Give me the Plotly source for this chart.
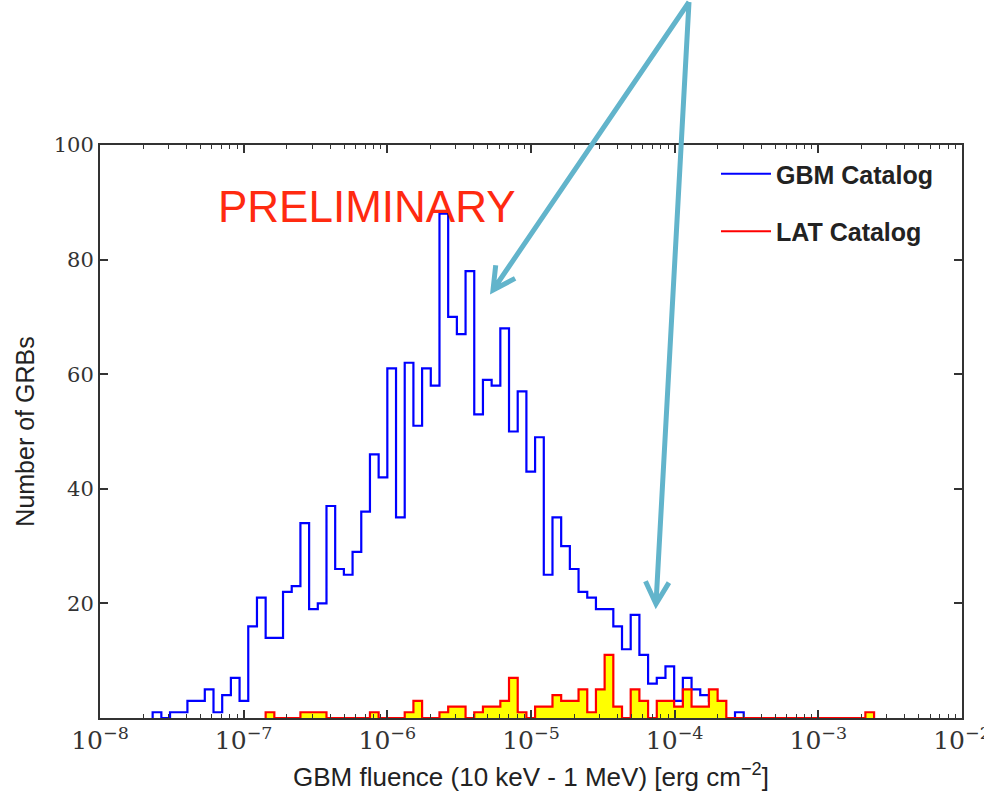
import math
import plotly.graph_objects as go

# Histogram binning: equal-width bins in log10(fluence)
LOG_EDGE0 = -6.0        # log10 of the edge at 1e-6
LOG_BIN = 0.0605        # bin width in decades

# GBM catalog counts, bins k = -27 .. 40 (k counted from the 1e-6 edge)
gbm_first_bin = -27
gbm_counts = [
    1, 0, 1, 1, 3, 3, 5, 1, 4, 7, 3, 16, 21, 14, 14, 22, 23,
    34, 19, 20, 37, 26, 25, 29, 36, 46, 42,
    61, 35, 62, 51, 61, 58, 88, 70, 67, 78, 53, 59, 58, 68, 50, 57, 43, 49,
    25, 35, 30, 26, 22, 21, 19, 19, 16, 12, 18, 11, 6, 7, 9, 3, 7, 5, 4, 3,
    0, 0, 1,
]

# LAT catalog counts, bins k = -14 .. 55
lat_first_bin = -14
lat_counts = [
    1, 0, 0, 0, 1, 1, 1, 0, 0, 0, 0, 0, 1, 0, 0, 0, 1, 3, 0, 0,
    1, 2, 2, 0, 1, 2, 2, 3, 7, 1, 0, 2, 2, 4, 3, 3, 5, 1, 5, 11,
    2, 0, 5, 3, 0, 3, 3, 2, 5, 2, 2, 5, 3,
    0, 0, 0, 0, 0, 0, 0, 0, 0, 0, 0, 0, 0, 0, 0, 0, 1,
]

x_decades = [-8, -2]
y_ticks = [20, 40, 60, 80, 100]


def step_outline(first_bin, counts):
    """Bin edges and heights for a closed step outline (matplotlib 'step')."""
    edges = [10 ** (LOG_EDGE0 + LOG_BIN * (first_bin + i)) for i in range(len(counts) + 1)]
    xs = [edges[0]] + edges
    ys = [0] + list(counts) + [0]
    return xs, ys


gx, gy = step_outline(gbm_first_bin, gbm_counts)
lx, ly = step_outline(lat_first_bin, lat_counts)

fig = go.Figure()
fig.add_trace(go.Scatter(
    x=gx, y=gy, mode="lines", line=dict(color="#0000ff", width=2.2, shape="hv"),
    name="GBM Catalog", legendgroup="gbm",
))
fig.add_trace(go.Scatter(
    x=lx, y=ly, mode="lines", line=dict(color="rgba(0,0,0,0)", width=0, shape="hv"),
    fill="tozeroy", fillcolor="#ffff00", showlegend=False, hoverinfo="skip",
))
fig.add_trace(go.Scatter(
    x=lx, y=ly, mode="lines", line=dict(color="#ff0000", width=2.2, shape="hv"),
    name="LAT Catalog", legendgroup="lat",
))

# plot-area geometry in pixels
W, H = 984, 793
L, R, T, B = 100, 22, 145, 75
PW, PH = W - L - R, H - T - B


def to_paper(px, py):
    return (px - L) / PW, (H - B - py) / PH


def arrow_path(tail, tip, head_len=25, half_angle=28):
    dx, dy = tail[0] - tip[0], tail[1] - tip[1]
    base = math.atan2(dy, dx)
    pts = []
    for s in (-1, 1):
        a = base + s * math.radians(half_angle)
        pts.append((tip[0] + head_len * math.cos(a), tip[1] + head_len * math.sin(a)))
    p = lambda q: "%.5f,%.5f" % to_paper(*q)
    return "M %s L %s M %s L %s L %s" % (p(tail), p(tip), p(pts[0]), p(tip), p(pts[1]))


arrow_color = "#62b4cb"
for tip in [(493, 290), (656, 604)]:
    fig.add_shape(type="path", xref="paper", yref="paper",
                  path=arrow_path((689, 2), tip),
                  line=dict(color=arrow_color, width=5))

fig.add_annotation(
    text="PRELIMINARY", xref="paper", yref="paper",
    x=to_paper(216, 0)[0], y=to_paper(0, 207)[1], xanchor="left", yanchor="middle",
    showarrow=False, font=dict(family="Liberation Sans", size=44, color="#ff2a10"),
)

axis_common = dict(
    showline=True, linecolor="#333333", linewidth=2, mirror="allticks",
    ticks="inside", ticklen=8, tickwidth=1.5, tickcolor="#333333",
    showgrid=False, zeroline=False,
)

fig.update_xaxes(
    type="log", range=x_decades, dtick=1, exponentformat="power",
    ticklabeloverflow="allow",
    tickfont=dict(family="DejaVu Serif", size=20, color="#333333"),
    minor=dict(ticks="inside", ticklen=4, tickwidth=1.2, tickcolor="#333333", showgrid=False),
    title=dict(text="GBM fluence (10 keV - 1 MeV) [erg cm<sup>−2</sup>]",
               font=dict(family="Liberation Sans", size=26, color="#222222"), standoff=14),
    **axis_common,
)
fig.update_yaxes(
    range=[0, 100], tickvals=y_ticks,
    tickfont=dict(family="DejaVu Serif", size=21, color="#333333"),
    title=dict(text="Number of GRBs",
               font=dict(family="Liberation Sans", size=25, color="#222222"), standoff=12),
    **axis_common,
)

fig.update_layout(
    width=W, height=H, margin=dict(l=L, r=R, t=T, b=B, autoexpand=False),
    paper_bgcolor="white", plot_bgcolor="white",
    legend=dict(
        x=to_paper(716, 0)[0], y=to_paper(0, 151)[1], xanchor="left", yanchor="top",
        bgcolor="rgba(0,0,0,0)", borderwidth=0, tracegroupgap=22,
        traceorder="grouped", itemwidth=50,
        font=dict(family="Liberation Sans", size=25, color="#222222", weight="bold"),
    ),
)

fig.write_html("out.html")
